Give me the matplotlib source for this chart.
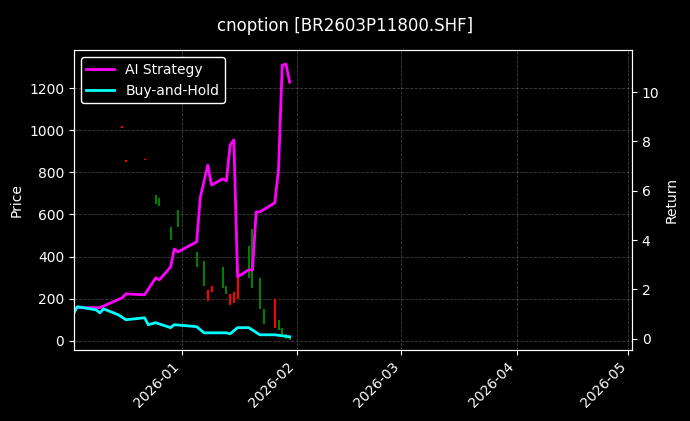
import matplotlib
matplotlib.use("Agg")
import matplotlib.pyplot as plt
import matplotlib.dates as mdates
import pandas as pd

c_dates = ["2025-12-16","2025-12-17","2025-12-22","2025-12-25","2025-12-26","2025-12-29","2025-12-31",
           "2026-01-05","2026-01-07","2026-01-08","2026-01-09","2026-01-12","2026-01-13","2026-01-14",
           "2026-01-15","2026-01-16","2026-01-19","2026-01-20","2026-01-22","2026-01-23","2026-01-26",
           "2026-01-27","2026-01-28","2026-01-29","2026-01-30"]
c_open  = [1010, 850, 860, 690, 680, 540, 620, 420, 380, 190, 230, 350, 260, 170, 180, 200, 450, 530, 300, 150, 60, 100, 60, 30, 15]
c_close = [1020, 860, 865, 650, 640, 480, 540, 350, 260, 240, 260, 250, 220, 220, 230, 350, 300, 250, 150, 80, 200, 50, 20, 10, 5]

ai_dates = ["2025-12-03","2025-12-10","2025-12-16","2025-12-17","2025-12-22","2025-12-25","2025-12-26",
            "2025-12-29","2025-12-30","2025-12-31","2026-01-05","2026-01-06","2026-01-08","2026-01-09",
            "2026-01-12","2026-01-13","2026-01-14","2026-01-15","2026-01-16","2026-01-19","2026-01-20",
            "2026-01-21","2026-01-22","2026-01-26","2026-01-27","2026-01-28","2026-01-29","2026-01-30"]
ai_ret = [1.26,1.26,1.66,1.82,1.78,2.47,2.39,2.91,3.64,3.52,3.93,5.75,7.04,6.23,6.48,6.40,7.85,8.06,
          2.51,2.79,2.79,5.14,5.14,5.51,6.84,11.09,11.13,10.4]

bh_dates = ["2025-12-03","2025-12-04","2025-12-09","2025-12-10","2025-12-11","2025-12-15","2025-12-17",
            "2025-12-22","2025-12-23","2025-12-25","2025-12-29","2025-12-30","2026-01-05","2026-01-07",
            "2026-01-13","2026-01-14","2026-01-16","2026-01-19","2026-01-22","2026-01-26","2026-01-30"]
bh_ret = [1.05,1.30,1.17,1.05,1.21,0.97,0.77,0.85,0.57,0.65,0.45,0.57,0.49,0.24,0.24,0.20,0.45,0.45,0.16,0.16,0.08]

plt.style.use("dark_background")
fig = plt.figure(figsize=(6.9, 4.21), dpi=100)
ax = fig.add_axes([0.107, 0.169, 0.809, 0.712])
ax2 = ax.twinx()
fig.suptitle("cnoption [BR2603P11800.SHF]", y=0.96, fontsize=12)

cd = pd.to_datetime(c_dates)
for d, o, c in zip(cd, c_open, c_close):
    col = "red" if c >= o else "green"
    ax.vlines(d, min(o, c), max(o, c), color=col, linewidth=1.5)

ax2.plot(pd.to_datetime(ai_dates), ai_ret, color="#ff00ff", lw=2, label="AI Strategy")
ax2.plot(pd.to_datetime(bh_dates), bh_ret, color="#00ffff", lw=2, label="Buy-and-Hold")

ax.set_xlim(pd.Timestamp("2025-12-03"), pd.Timestamp("2026-05-02"))
ax.set_ylim(-43, 1380)
ax2.set_ylim(-0.45, 11.7)
ax.set_ylabel("Price")
ax2.set_ylabel("Return")
ax.xaxis.set_major_locator(mdates.MonthLocator())
ax.xaxis.set_major_formatter(mdates.DateFormatter("%Y-%m"))
for lbl in ax.get_xticklabels():
    lbl.set_rotation(45); lbl.set_ha("right")
ax.grid(True, linestyle="--", color="gray", alpha=0.5, linewidth=0.6)
ax2.legend(loc="upper left", facecolor="black", edgecolor="white", framealpha=1)
fig.savefig("out.png", dpi=100, facecolor="black")
